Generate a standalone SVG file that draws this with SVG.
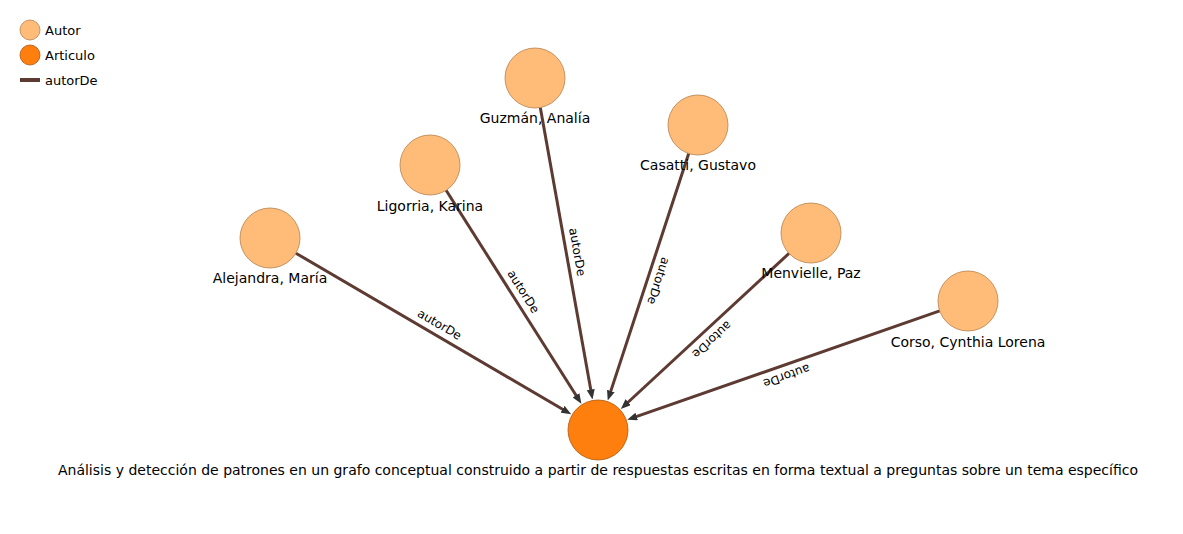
<svg xmlns="http://www.w3.org/2000/svg" width="1183" height="534" viewBox="0 0 1183 534">
<style>
text{font-family:"DejaVu Sans","Liberation Sans",sans-serif;fill:#000}
.autor{fill:#ffbb78;stroke:#b5824e;stroke-width:0.8}
.art{fill:#ff7f0e;stroke:#b0560a;stroke-width:0.8}
.edge{stroke:#5d3b32;stroke-width:3;fill:none;marker-end:url(#arrow)}
.nl{font-size:14px;text-anchor:middle}
.el{font-size:12px;text-anchor:middle}
.lg{font-size:13px}
</style>
<defs>
<marker id="arrow" viewBox="0 -4 10 8" refX="2" refY="0" markerWidth="10" markerHeight="8" markerUnits="userSpaceOnUse" orient="auto">
<path d="M0,-4 L10,0 L0,4 Z" fill="#333"/>
</marker>
</defs>
<rect width="1183" height="534" fill="#fff"/>
<g id="legend">
<circle class="autor" cx="30" cy="30" r="10"/>
<text class="lg" x="45" y="35">Autor</text>
<circle class="art" cx="30" cy="55" r="10"/>
<text class="lg" x="45" y="60">Articulo</text>
<line x1="20" y1="80" x2="40" y2="80" stroke="#5d3b32" stroke-width="4"/>
<text class="lg" x="45" y="85">autorDe</text>
</g>
<g id="connectors">
<line class="edge" x1="295.9" y1="253.2" x2="564.3" y2="410.3"/>
<line class="edge" x1="446.1" y1="190.3" x2="577.1" y2="397.0"/>
<line class="edge" x1="540.3" y1="107.5" x2="591.1" y2="391.6"/>
<line class="edge" x1="688.7" y1="153.5" x2="610.2" y2="392.9"/>
<line class="edge" x1="789.0" y1="253.4" x2="626.7" y2="403.5"/>
<line class="edge" x1="939.7" y1="310.9" x2="634.8" y2="417.2"/>
<text class="el" transform="translate(434,334) rotate(30.35)" y="-7">autorDe</text>
<text class="el" transform="translate(514,297.5) rotate(57.62)" y="-7">autorDe</text>
<text class="el" transform="translate(566.5,254) rotate(79.85)" y="-7">autorDe</text>
<text class="el" transform="translate(648,277.5) rotate(108.15)" y="-7">autorDe</text>
<text class="el" transform="translate(704.5,331.5) rotate(137.24)" y="-7">autorDe</text>
<text class="el" transform="translate(783,365.5) rotate(160.78)" y="-7">autorDe</text>
</g>
<g id="n-guzman"><circle class="autor" cx="535" cy="78" r="30"/><text class="nl" x="535" y="123">Guzmán, Analía</text></g>
<g id="n-casatti"><circle class="autor" cx="698" cy="125" r="30"/><text class="nl" x="698" y="170">Casatti, Gustavo</text></g>
<g id="n-ligorria"><circle class="autor" cx="430" cy="165" r="30"/><text class="nl" x="430" y="211">Ligorria, Karina</text></g>
<g id="n-alejandra"><circle class="autor" cx="270" cy="238" r="30"/><text class="nl" x="270" y="283">Alejandra, María</text></g>
<g id="n-menvielle"><circle class="autor" cx="811" cy="233" r="30"/><text class="nl" x="811" y="278">Menvielle, Paz</text></g>
<g id="n-corso"><circle class="autor" cx="968" cy="301" r="30"/><text class="nl" x="968" y="347">Corso, Cynthia Lorena</text></g>
<g id="n-articulo"><circle class="art" cx="598" cy="430" r="30"/><text class="nl" x="598" y="475">Análisis y detección de patrones en un grafo conceptual construido a partir de respuestas escritas en forma textual a preguntas sobre un tema específico</text></g>
</svg>
